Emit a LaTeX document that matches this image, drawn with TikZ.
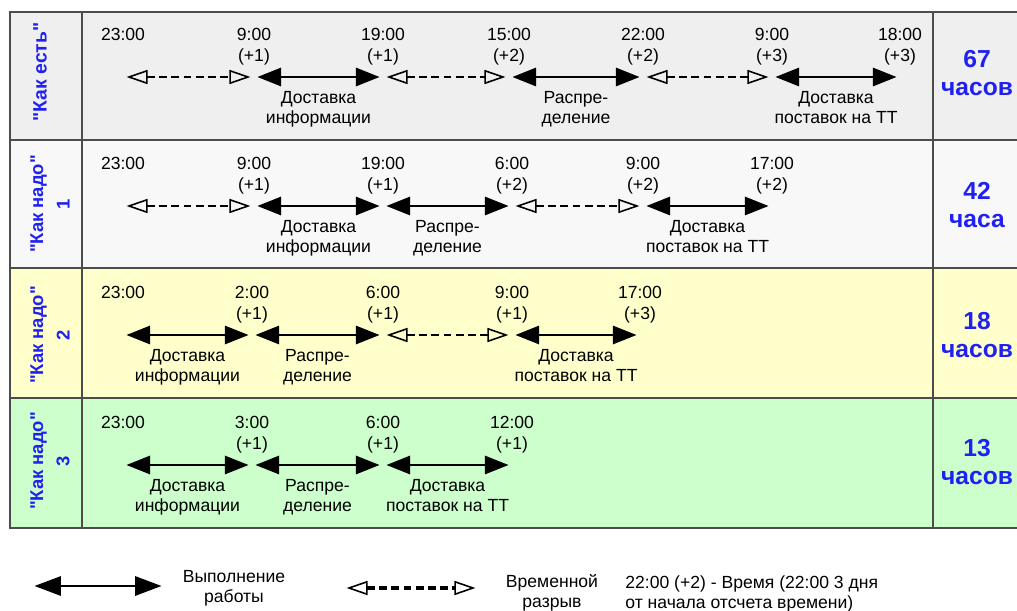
\documentclass[tikz,border=0pt]{standalone}
\usepackage{fontspec}
\setmainfont{Liberation Sans}
\usetikzlibrary{arrows.meta,positioning}
\definecolor{frame}{HTML}{4C4C4C}
\definecolor{rowgray}{HTML}{EFEFEF}
\definecolor{rowlight}{HTML}{F8F8F8}
\definecolor{rowyellow}{HTML}{FFFFCC}
\definecolor{rowgreen}{HTML}{CCFFCC}
\definecolor{hoursblue}{HTML}{2020F0}
\newcommand{\qq}[1]{\textquotedbl#1\textquotedbl}

\begin{document}
\begin{tikzpicture}[
  x=0.02cm,y=-0.02cm,
  every node/.style={font=\fontsize{10}{11.5}\selectfont,align=center,inner sep=0pt},
  grid/.style={draw=frame,line width=1.1pt},
  work/.style={line width=1.1pt,shorten <=2pt,shorten >=2pt,
    {Triangle[length=13.5pt,width=10.5pt]}-{Triangle[length=13.5pt,width=10.5pt]}},
  pause/.style={line width=1.5pt,dash pattern=on 4.5pt off 2.4pt,shorten <=2pt,shorten >=2pt,
    {Triangle[open,length=12pt,width=8pt,line width=0.9pt]}-{Triangle[open,length=12pt,width=8pt,line width=0.9pt]}},
  hours/.style={text=hoursblue,font=\fontsize{14}{16}\selectfont\bfseries},
  variant/.style={rotate=90,text=hoursblue,font=\fontsize{10.5}{15}\selectfont\bfseries}
]
\useasboundingbox[fill=white] (0,0) rectangle (1017,611);

% table rows
\fill[rowgray] (10,12) rectangle (1017,140);
\fill[rowlight] (10,140) rectangle (1017,268);
\fill[rowyellow] (10,268) rectangle (1017,398);
\fill[rowgreen] (10,398) rectangle (1017,528);
\draw[grid] (1017,12) -- (10,12) -- (10,528) -- (1017,528);
\draw[grid] (10,140) -- (1017,140);
\draw[grid] (10,268) -- (1017,268);
\draw[grid] (10,398) -- (1017,398);
\draw[grid] (82,12) -- (82,528);
\draw[grid] (933,12) -- (933,528);

\node[variant,font=\fontsize{11}{15}\selectfont\bfseries] (var1) at (40,72) {\qq{Как есть}};
\node[variant] (var2) at (50,204) {\qq{Как надо}\\1};
\node[variant] (var3) at (50,335) {\qq{Как надо}\\2};
\node[variant] (var4) at (50,461) {\qq{Как надо}\\3};

\node[hours] (h1) at (977,73) {67\\часов};
\node[hours] (h2) at (977,205) {42\\часа};
\node[hours] (h3) at (977,335) {18\\часов};
\node[hours] (h4) at (977,462) {13\\часов};

% as is
\coordinate (r1p0) at (123,77);
\coordinate (r1p1) at (254,77);
\coordinate (r1p2) at (383,77);
\coordinate (r1p3) at (509,77);
\coordinate (r1p4) at (643,77);
\coordinate (r1p5) at (772,77);
\coordinate (r1p6) at (900,77);
\node[above=20.2pt of r1p0] (r1t0) {23:00};
\node[above=6.8pt of r1p1] (r1t1) {9:00\\(+1)};
\node[above=6.8pt of r1p2] (r1t2) {19:00\\(+1)};
\node[above=6.8pt of r1p3] (r1t3) {15:00\\(+2)};
\node[above=6.8pt of r1p4] (r1t4) {22:00\\(+2)};
\node[above=6.8pt of r1p5] (r1t5) {9:00\\(+3)};
\node[above=6.8pt of r1p6] (r1t6) {18:00\\(+3)};
\draw[pause] (r1p0) -- (r1p1);
\draw[work] (r1p1) -- node[below=7.5pt] (r1w1) {Доставка\\информации} (r1p2);
\draw[pause] (r1p2) -- (r1p3);
\draw[work] (r1p3) -- node[below=7.5pt] (r1w2) {Распре-\\деление} (r1p4);
\draw[pause] (r1p4) -- (r1p5);
\draw[work] (r1p5) -- node[below=7.5pt] (r1w3) {Доставка\\поставок на ТТ} (r1p6);

% to be 1
\coordinate (r2p0) at (123,206);
\coordinate (r2p1) at (254,206);
\coordinate (r2p2) at (383,206);
\coordinate (r2p3) at (512,206);
\coordinate (r2p4) at (643,206);
\coordinate (r2p5) at (772,206);
\node[above=20.2pt of r2p0] (r2t0) {23:00};
\node[above=6.8pt of r2p1] (r2t1) {9:00\\(+1)};
\node[above=6.8pt of r2p2] (r2t2) {19:00\\(+1)};
\node[above=6.8pt of r2p3] (r2t3) {6:00\\(+2)};
\node[above=6.8pt of r2p4] (r2t4) {9:00\\(+2)};
\node[above=6.8pt of r2p5] (r2t5) {17:00\\(+2)};
\draw[pause] (r2p0) -- (r2p1);
\draw[work] (r2p1) -- node[below=7.5pt] (r2w1) {Доставка\\информации} (r2p2);
\draw[work] (r2p2) -- node[below=7.5pt] (r2w2) {Распре-\\деление} (r2p3);
\draw[pause] (r2p3) -- (r2p4);
\draw[work] (r2p4) -- node[below=7.5pt] (r2w3) {Доставка\\поставок на ТТ} (r2p5);

% to be 2
\coordinate (r3p0) at (123,335);
\coordinate (r3p1) at (252,335);
\coordinate (r3p2) at (383,335);
\coordinate (r3p3) at (512,335);
\coordinate (r3p4) at (640,335);
\node[above=20.2pt of r3p0] (r3t0) {23:00};
\node[above=6.8pt of r3p1] (r3t1) {2:00\\(+1)};
\node[above=6.8pt of r3p2] (r3t2) {6:00\\(+1)};
\node[above=6.8pt of r3p3] (r3t3) {9:00\\(+1)};
\node[above=6.8pt of r3p4] (r3t4) {17:00\\(+3)};
\draw[work] (r3p0) -- node[below=7.5pt] (r3w1) {Доставка\\информации} (r3p1);
\draw[work] (r3p1) -- node[below=7.5pt] (r3w2) {Распре-\\деление} (r3p2);
\draw[pause] (r3p2) -- (r3p3);
\draw[work] (r3p3) -- node[below=7.5pt] (r3w3) {Доставка\\поставок на ТТ} (r3p4);

% to be 3
\coordinate (r4p0) at (123,465);
\coordinate (r4p1) at (252,465);
\coordinate (r4p2) at (383,465);
\coordinate (r4p3) at (512,465);
\node[above=20.2pt of r4p0] (r4t0) {23:00};
\node[above=6.8pt of r4p1] (r4t1) {3:00\\(+1)};
\node[above=6.8pt of r4p2] (r4t2) {6:00\\(+1)};
\node[above=6.8pt of r4p3] (r4t3) {12:00\\(+1)};
\draw[work] (r4p0) -- node[below=7.5pt] (r4w1) {Доставка\\информации} (r4p1);
\draw[work] (r4p1) -- node[below=7.5pt] (r4w2) {Распре-\\деление} (r4p2);
\draw[work] (r4p2) -- node[below=7.5pt] (r4w3) {Доставка\\поставок на ТТ} (r4p3);

% legend
\coordinate (lw0) at (31,586);
\coordinate (lw1) at (165,586);
\coordinate (lp0) at (343,588);
\coordinate (lp1) at (479,588);
\draw[work,{Triangle[length=15pt,width=11pt]}-{Triangle[length=15pt,width=11pt]}] (lw0) -- (lw1);
\node (lwtext) at (234,588) {Выполнение\\работы};
\draw[pause,line width=1.8pt] (lp0) -- (lp1);
\node (lptext) at (552,593) {Временной\\разрыв};
\node[anchor=west,align=left] (note) at (625,594) {22:00 (+2) - Время (22:00 3 дня\\от начала отсчета времени)};
\end{tikzpicture}
\end{document}
